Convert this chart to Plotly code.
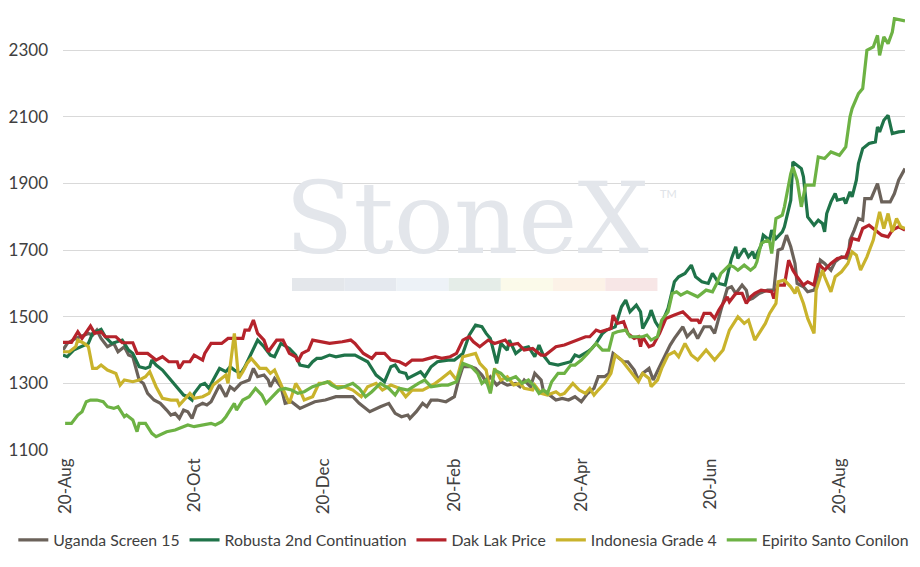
import pandas as pd
import plotly.graph_objects as go

# days counted from 20-Aug-2023, values in USD/t
base_date = pd.Timestamp("2023-08-20")

uganda_days = [-1, 1, 5, 11, 13, 15, 17, 20, 23, 25, 28, 30, 32, 35, 37, 39, 42, 45, 48, 50,
               52, 54, 56, 58, 60, 62, 65, 67, 69, 71, 73, 76, 78, 80, 83, 87, 89, 91, 94, 96,
               97, 99, 102, 104, 107, 111, 115, 118, 123, 128, 131, 136, 139, 144, 149, 153, 156, 159, 162, 163,
               166, 169, 171, 173, 176, 180, 184, 186, 188, 192, 194, 197, 199, 201, 204, 206, 209, 213, 215, 217,
               220, 222, 225, 226, 228, 230, 232, 235, 238, 241, 244, 247, 250, 252, 255, 257, 259, 261, 264, 266,
               269, 271, 273, 276, 278, 281, 284, 286, 288, 292, 294, 297, 299, 302, 305, 307, 310, 313, 315, 317,
               320, 322, 323, 325, 328, 332, 335, 337, 339, 341, 343, 345, 346, 349, 351, 354, 355, 357, 359, 362,
               364, 367, 370, 371, 373, 375, 377, 378, 381, 384, 386, 390, 392, 394, 397]
uganda = [1400, 1420, 1435, 1450, 1445, 1460, 1435, 1410, 1420, 1395, 1410, 1385, 1380, 1310, 1300, 1270, 1250, 1240, 1220, 1205,
          1210, 1195, 1220, 1215, 1195, 1230, 1240, 1235, 1245, 1270, 1295, 1260, 1290, 1280, 1300, 1310, 1345, 1320, 1325, 1310,
          1290, 1315, 1290, 1240, 1245, 1225, 1235, 1245, 1250, 1260, 1260, 1260, 1240, 1215, 1230, 1240, 1210, 1200, 1205, 1195,
          1215, 1240, 1230, 1250, 1250, 1245, 1260, 1310, 1350, 1350, 1345, 1325, 1305, 1320, 1295, 1305, 1295, 1300, 1290, 1310,
          1290, 1330, 1310, 1280, 1270, 1260, 1250, 1255, 1250, 1260, 1245, 1270, 1285, 1320, 1320, 1330, 1390, 1380, 1365, 1365,
          1340, 1310, 1330, 1345, 1310, 1350, 1390, 1415, 1435, 1470, 1440, 1460, 1435, 1470, 1470, 1450, 1520, 1585, 1590, 1570,
          1595, 1580, 1550, 1555, 1570, 1580, 1580, 1700, 1705, 1745, 1710, 1660, 1600, 1590, 1575, 1580, 1595, 1670, 1660, 1640,
          1665, 1680, 1675, 1730, 1760, 1795, 1790, 1855, 1855, 1900, 1845, 1845, 1870, 1910, 1945]

robusta_days = [-1, 1, 4, 8, 11, 13, 17, 19, 22, 27, 30, 32, 35, 38, 40, 41, 43, 46, 50, 54,
                56, 58, 60, 61, 64, 66, 68, 70, 73, 76, 78, 80, 83, 85, 87, 89, 91, 94, 97, 99,
                102, 106, 109, 111, 115, 117, 119, 121, 125, 128, 132, 137, 140, 143, 147, 150, 151, 154, 156, 158,
                161, 162, 165, 168, 170, 173, 176, 181, 184, 188, 191, 194, 197, 199, 201, 204, 206, 209, 210, 213,
                216, 219, 222, 224, 226, 229, 233, 236, 239, 241, 243, 247, 249, 251, 254, 256, 260, 263, 265, 267,
                270, 272, 273, 276, 277, 279, 281, 283, 285, 288, 290, 293, 296, 298, 301, 304, 306, 309, 312, 314,
                315, 317, 318, 321, 323, 325, 326, 329, 330, 333, 334, 336, 339, 340, 343, 344, 346, 348, 349, 351,
                354, 356, 358, 359, 360, 362, 364, 365, 368, 369, 371, 372, 374, 375, 377, 380, 383, 384, 385, 387,
                389, 391, 394, 397]
robusta = [1385, 1380, 1400, 1410, 1420, 1450, 1462, 1440, 1420, 1430, 1400, 1390, 1350, 1345, 1350, 1370, 1355, 1340, 1310, 1280,
           1265, 1260, 1250, 1270, 1295, 1300, 1285, 1310, 1345, 1335, 1350, 1340, 1330, 1350, 1375, 1400, 1430, 1410, 1385, 1380,
           1420, 1405, 1385, 1355, 1350, 1365, 1375, 1375, 1385, 1380, 1385, 1385, 1375, 1365, 1325, 1310, 1305, 1350, 1355, 1335,
           1330, 1315, 1325, 1335, 1320, 1350, 1365, 1370, 1370, 1390, 1445, 1475, 1470, 1450, 1435, 1360, 1420, 1400, 1430, 1390,
           1405, 1410, 1380, 1415, 1385, 1360, 1355, 1360, 1365, 1385, 1380, 1395, 1405, 1420, 1450, 1460, 1470, 1530, 1550, 1515,
           1535, 1515, 1465, 1500, 1520, 1485, 1465, 1495, 1525, 1605, 1620, 1630, 1655, 1620, 1605, 1600, 1630, 1600, 1595, 1650,
           1675, 1710, 1675, 1705, 1680, 1695, 1675, 1715, 1745, 1730, 1760, 1735, 1755, 1770, 1850, 1965, 1955, 1945, 1920, 1800,
           1775, 1790, 1780, 1755, 1810, 1845, 1870, 1850, 1855, 1840, 1875, 1860, 1910, 1960, 2005, 2020, 2025, 2070, 2055, 2090,
           2105, 2050, 2055, 2057]

daklak_days = [-1, 3, 6, 8, 12, 14, 17, 19, 24, 27, 32, 34, 39, 43, 46, 49, 53, 54, 56, 59,
               61, 65, 66, 69, 74, 77, 84, 85, 87, 89, 91, 94, 96, 100, 103, 106, 109, 110, 112, 115,
               117, 121, 125, 131, 135, 137, 141, 145, 147, 151, 154, 158, 161, 164, 169, 172, 175, 178, 182, 185,
               188, 191, 193, 196, 200, 203, 208, 210, 214, 217, 221, 225, 227, 229, 232, 236, 238, 241, 246, 248,
               251, 253, 255, 258, 259, 261, 264, 266, 269, 271, 272, 273, 276, 278, 281, 284, 288, 292, 296, 299,
               300, 302, 305, 307, 309, 313, 314, 317, 320, 322, 324, 326, 329, 334, 335, 337, 340, 342, 344, 346,
               349, 351, 354, 356, 359, 362, 365, 369, 371, 372, 375, 377, 380, 383, 386, 389, 391, 394, 397]
daklak = [1423, 1423, 1455, 1435, 1472, 1450, 1455, 1440, 1440, 1422, 1422, 1390, 1390, 1370, 1380, 1365, 1365, 1345, 1365, 1365,
          1385, 1370, 1390, 1420, 1420, 1435, 1435, 1460, 1460, 1490, 1450, 1430, 1395, 1430, 1430, 1390, 1380, 1365, 1390, 1400,
          1430, 1425, 1420, 1425, 1430, 1420, 1390, 1375, 1390, 1390, 1370, 1365, 1355, 1370, 1370, 1375, 1380, 1375, 1380, 1390,
          1430, 1440, 1425, 1410, 1430, 1420, 1430, 1415, 1420, 1400, 1405, 1385, 1385, 1395, 1410, 1415, 1420, 1425, 1440, 1440,
          1460, 1455, 1460, 1465, 1505, 1480, 1485, 1450, 1435, 1440, 1410, 1440, 1410, 1415, 1450, 1495, 1505, 1515, 1490, 1490,
          1480, 1510, 1510, 1495, 1520, 1560, 1545, 1570, 1570, 1540, 1560, 1570, 1580, 1575, 1555, 1595, 1595, 1670, 1640, 1620,
          1595, 1605, 1595, 1660, 1640, 1660, 1675, 1680, 1710, 1735, 1730, 1765, 1775, 1760, 1745, 1740, 1760, 1770, 1760]

indonesia_days = [-1, 2, 5, 6, 9, 11, 13, 15, 17, 20, 22, 24, 26, 28, 32, 35, 38, 40, 43, 46,
                  50, 53, 54, 57, 59, 61, 65, 68, 70, 73, 76, 77, 79, 80, 82, 84, 86, 88, 90, 92,
                  95, 97, 99, 102, 106, 109, 111, 113, 117, 120, 122, 125, 128, 132, 136, 140, 143, 147, 150, 154,
                  158, 161, 164, 169, 172, 175, 178, 182, 185, 188, 194, 196, 199, 201, 203, 206, 209, 212, 215, 217,
                  221, 222, 225, 228, 232, 234, 236, 240, 243, 246, 248, 250, 252, 255, 258, 260, 263, 265, 268, 271,
                  273, 276, 277, 280, 282, 285, 288, 290, 293, 296, 299, 303, 305, 307, 311, 314, 318, 321, 323, 326,
                  329, 331, 333, 336, 337, 340, 343, 345, 346, 349, 351, 354, 355, 358, 359, 362, 364, 367, 370, 372,
                  374, 376, 379, 382, 385, 387, 389, 391, 393, 395, 397]
indonesia = [1395, 1395, 1410, 1430, 1420, 1410, 1345, 1345, 1355, 1340, 1335, 1330, 1295, 1310, 1305, 1310, 1320, 1335, 1290, 1255,
             1250, 1250, 1235, 1255, 1270, 1255, 1260, 1270, 1295, 1310, 1325, 1300, 1410, 1450, 1315, 1335, 1360, 1375, 1360, 1345,
             1345, 1330, 1340, 1295, 1240, 1300, 1280, 1250, 1260, 1300, 1300, 1305, 1290, 1290, 1280, 1260, 1290, 1300, 1280, 1295,
             1285, 1260, 1280, 1280, 1290, 1300, 1315, 1335, 1310, 1380, 1390, 1360, 1340, 1275, 1345, 1310, 1320, 1295, 1300, 1285,
             1280, 1295, 1270, 1265, 1275, 1265, 1270, 1300, 1280, 1270, 1285, 1265, 1280, 1300, 1330, 1385, 1370, 1355, 1330, 1305,
             1330, 1315, 1290, 1310, 1345, 1385, 1395, 1380, 1420, 1385, 1370, 1400, 1385, 1370, 1400, 1460, 1500, 1480, 1490, 1430,
             1460, 1480, 1510, 1540, 1605, 1610, 1590, 1570, 1590, 1540, 1495, 1450, 1580, 1640, 1620, 1575, 1620, 1635, 1660, 1695,
             1685, 1640, 1680, 1730, 1815, 1765, 1810, 1755, 1795, 1770, 1765]

espirito_days = [0, 3, 6, 8, 10, 12, 15, 18, 20, 23, 25, 28, 29, 32, 34, 35, 38, 41, 43, 45,
                 48, 52, 54, 58, 61, 65, 69, 71, 74, 76, 80, 81, 84, 87, 90, 93, 95, 98, 101, 104,
                 107, 110, 113, 117, 121, 124, 126, 129, 132, 136, 139, 142, 145, 149, 153, 156, 158, 162, 167, 170,
                 173, 178, 181, 185, 188, 192, 195, 197, 199, 201, 203, 206, 209, 213, 216, 219, 222, 224, 226, 228,
                 230, 233, 236, 239, 241, 244, 247, 251, 254, 257, 259, 261, 265, 267, 270, 273, 275, 277, 280, 282,
                 285, 287, 289, 291, 294, 296, 299, 303, 306, 308, 310, 314, 316, 318, 321, 324, 326, 327, 329, 332,
                 333, 334, 336, 339, 340, 343, 344, 346, 348, 350, 354, 356, 359, 362, 366, 369, 371, 372, 375, 377,
                 379, 382, 384, 385, 387, 389, 391, 392, 397]
espirito = [1180, 1180, 1205, 1215, 1245, 1250, 1250, 1245, 1230, 1225, 1230, 1200, 1205, 1190, 1155, 1180, 1180, 1150, 1140, 1145,
            1155, 1160, 1165, 1175, 1170, 1175, 1180, 1175, 1185, 1200, 1240, 1220, 1250, 1260, 1285, 1265, 1240, 1260, 1280, 1285,
            1280, 1270, 1275, 1290, 1300, 1305, 1295, 1285, 1290, 1300, 1285, 1260, 1275, 1300, 1285, 1265, 1285, 1280, 1300, 1310,
            1290, 1295, 1295, 1305, 1360, 1350, 1330, 1300, 1310, 1270, 1340, 1330, 1310, 1320, 1300, 1310, 1290, 1270, 1280, 1270,
            1305, 1330, 1330, 1355, 1355, 1370, 1390, 1420, 1400, 1400, 1450, 1455, 1460, 1440, 1440, 1440, 1445, 1430, 1440, 1490,
            1515, 1570, 1575, 1565, 1575, 1570, 1560, 1580, 1575, 1600, 1630, 1655, 1650, 1640, 1655, 1640, 1650, 1665, 1720, 1730,
            1725, 1690, 1795, 1805, 1830, 1930, 1950, 1910, 1830, 1895, 1895, 1980, 1975, 1995, 1985, 2010, 2100, 2125, 2170, 2185,
            2300, 2310, 2345, 2285, 2340, 2320, 2355, 2395, 2388]

series_names = ["Uganda Screen 15", "Robusta 2nd Continuation", "Dak Lak Price",
                "Indonesia Grade 4", "Epirito Santo Conilon"]
series_colors = ["#6b625a", "#1f7349", "#b5232b", "#c9b32c", "#6db244"]
tick_dates = ["2023-08-20", "2023-10-20", "2023-12-20", "2024-02-20",
              "2024-04-20", "2024-06-20", "2024-08-20"]
tick_labels = ["20-Aug", "20-Oct", "20-Dec", "20-Feb", "20-Apr", "20-Jun", "20-Aug"]
band_colors = ["#e4e7eb", "#e5e9ef", "#edf2f7", "#e5ede8", "#fbfaea", "#fcf2e7", "#f7e6e6"]

all_days = [uganda_days, robusta_days, daklak_days, indonesia_days, espirito_days]
all_vals = [uganda, robusta, daklak, indonesia, espirito]

fig = go.Figure()
for name, col, d, v in zip(series_names, series_colors, all_days, all_vals):
    fig.add_trace(go.Scatter(
        x=base_date + pd.to_timedelta(d, unit="D"),
        y=v,
        mode="lines",
        name=name,
        line=dict(color=col, width=3.2),
    ))

# StoneX watermark
fig.add_annotation(text="StoneX", xref="paper", yref="paper", x=0.4795, y=0.535,
                   xanchor="center", yanchor="middle", showarrow=False,
                   font=dict(family="DejaVu Serif", size=100, color="#e3e6eb"))
fig.add_annotation(text="TM", xref="paper", yref="paper", x=0.7195, y=0.592,
                   xanchor="center", yanchor="middle", showarrow=False,
                   font=dict(family="Lato", size=11, color="#e0e3e8"))
x_start, seg = 0.272, 0.062
for i, c in enumerate(band_colors):
    fig.add_shape(type="rect", xref="paper", yref="paper",
                  x0=x_start + i * seg, x1=x_start + (i + 1) * seg, y0=0.367, y1=0.397,
                  fillcolor=c, line_width=0, layer="below")

# page body adds 8px offset, margins compensate
fig.update_layout(
    width=920, height=567,
    margin=dict(l=55, r=23, t=9, b=125, autoexpand=False),
    plot_bgcolor="white", paper_bgcolor="white",
    font=dict(family="Lato", size=17, color="#404040"),
    showlegend=True,
    legend=dict(orientation="h", x=-0.059, xanchor="left", y=-0.208, yanchor="middle",
                font=dict(size=15.8, color="#404040"), tracegroupgap=0),
)
fig.update_xaxes(range=["2023-08-19", "2024-09-20"], tickvals=tick_dates, ticktext=tick_labels,
                 tickangle=-90, showgrid=False, zeroline=False, showline=False,
                 ticks="", ticklabelstandoff=4, automargin=False)
fig.update_yaxes(range=[1100, 2400], tickvals=[1100, 1300, 1500, 1700, 1900, 2100, 2300],
                 showgrid=True, gridcolor="#d9d9d9", gridwidth=1, zeroline=False,
                 showline=False, ticks="", ticklabelstandoff=14, automargin=False)

fig.write_html("out.html")
